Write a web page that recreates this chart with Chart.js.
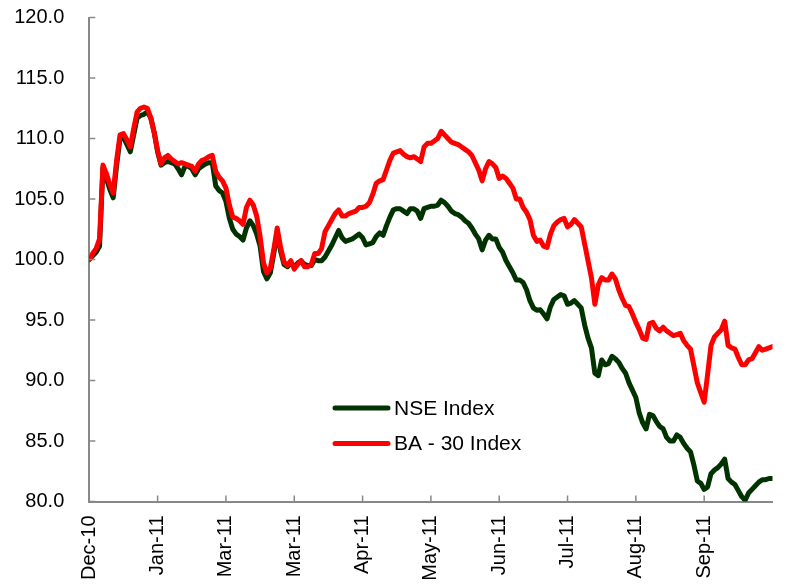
<!DOCTYPE html>
<html lang="en">
<head>
<meta charset="UTF-8">
<title>NSE Index vs BA - 30 Index</title>
<script src="https://cdn.jsdelivr.net/npm/chart.js"></script>
<style>
    body { margin: 0; background: #fff; }
    canvas { display: block; }
</style>
</head>
<body>
<canvas id="indexChart" width="795" height="585"></canvas>
<script>
// month labels, one every 20 trading days
const tickLabels = ['Dec-10', 'Jan-11', 'Mar-11', 'Mar-11', 'Apr-11', 'May-11', 'Jun-11', 'Jul-11', 'Aug-11', 'Sep-11'];
const daysPerTick = 20;

const nseIndex = [
    100.0, 100.3, 100.6, 101.1, 107.6, 106.7, 105.8, 105.1, 107.8, 110.0,
    110.1, 109.5, 108.9, 110.3, 111.7, 111.9, 112.0, 112.2, 111.7, 110.5,
    108.9, 107.8, 108.0, 108.1, 108.0, 107.9, 107.5, 107.0, 107.7, 107.7,
    107.5, 107.0, 107.5, 107.7, 107.9, 108.0, 108.0, 106.1, 105.7, 105.5,
    104.8, 103.4, 102.5, 102.1, 101.9, 101.6, 102.6, 103.2, 102.8, 102.1,
    101.1, 99.0, 98.4, 98.9, 100.5, 102.2, 100.7, 99.6, 99.4, 99.7,
    99.4, 99.7, 99.9, 99.6, 99.5, 99.5, 100.0, 99.9, 99.9, 100.2,
    100.7, 101.2, 101.8, 102.4, 101.8, 101.5, 101.6, 101.7, 101.9, 102.1,
    101.8, 101.2, 101.3, 101.4, 101.9, 102.2, 102.0, 102.8, 103.5, 104.1,
    104.2, 104.2, 104.0, 103.8, 104.2, 104.2, 104.0, 103.4, 104.2, 104.3,
    104.4, 104.4, 104.5, 104.9, 104.7, 104.4, 104.0, 103.8, 103.7, 103.5,
    103.2, 103.0, 102.6, 102.1, 101.7, 100.8, 101.6, 102.0, 101.7, 101.7,
    101.0, 100.6, 99.9, 99.4, 98.9, 98.3, 98.3, 98.1, 97.5, 96.6,
    96.0, 95.8, 95.85, 95.5, 95.1, 96.1, 96.7, 96.9, 97.1, 97.0,
    96.3, 96.4, 96.6, 96.3, 96.0, 94.6, 93.5, 92.7, 90.6, 90.4,
    91.7, 91.3, 91.4, 92.0, 91.8, 91.5, 91.0, 90.6, 89.8, 89.2,
    88.6, 87.3, 86.5, 86.0, 87.2, 87.1, 86.6, 86.2, 86.0, 85.3,
    85.0, 85.0, 85.5, 85.3, 84.8, 84.4, 84.1, 83.0, 81.7, 81.5,
    81.0, 81.2, 82.3, 82.6, 82.8, 83.1, 83.5, 81.9, 81.6, 81.4,
    80.9, 80.4, 80.1, 80.7, 81.0, 81.3, 81.6, 81.8, 81.8, 81.9,
    81.9
];

const ba30Index = [
    100.0, 100.5, 100.9, 101.7, 107.8, 107.1, 106.2, 105.5, 108.2, 110.3,
    110.4, 109.9, 109.3, 110.8, 112.2, 112.5, 112.6, 112.5, 111.7, 110.5,
    109.0, 107.9, 108.4, 108.6, 108.3, 108.1, 107.9, 108.0, 107.9, 107.8,
    107.7, 107.3, 107.9, 108.2, 108.3, 108.5, 108.6, 107.3, 106.8, 106.5,
    105.9, 104.5, 103.5, 103.4, 103.2, 102.9, 104.3, 104.9, 104.5, 103.6,
    101.9, 99.7, 98.9, 99.3, 100.8, 102.6, 101.0, 99.8, 99.5, 99.9,
    99.2, 99.6, 99.9, 99.4, 99.4, 99.6, 100.5, 100.5, 100.9, 102.3,
    102.8, 103.3, 103.8, 104.1, 103.6, 103.6, 103.8, 103.9, 104.0, 104.3,
    104.3, 104.4, 104.7, 105.4, 106.3, 106.5, 106.6, 107.4, 108.2, 108.8,
    108.9, 109.0, 108.7, 108.5, 108.4, 108.5, 108.3, 108.1, 109.3, 109.6,
    109.6, 109.8, 110.0, 110.6, 110.3, 110.0, 109.7, 109.6, 109.5, 109.3,
    109.1, 108.9, 108.6, 108.0, 107.4, 106.5, 107.5, 108.1, 107.9, 107.6,
    106.7, 106.9, 106.7, 106.3, 105.9, 105.0, 105.0, 104.3, 103.9, 103.3,
    102.0, 101.5, 101.6, 101.1, 101.0, 102.1, 102.8, 103.1, 103.3, 103.4,
    102.7, 102.9, 103.3, 103.0, 102.7, 101.3, 99.9, 98.5, 96.3, 97.9,
    98.5, 98.3, 98.3, 98.8, 98.4, 97.5, 96.8, 96.2, 96.1, 95.5,
    94.8, 94.2, 93.5, 93.4, 94.7, 94.8, 94.3, 94.1, 94.4, 94.1,
    93.9, 93.7, 93.8, 93.9, 93.3, 92.9, 92.6, 91.2, 89.8, 89.0,
    88.2, 90.5, 92.9, 93.6, 93.9, 94.2, 94.9, 92.9, 92.7, 92.6,
    91.9, 91.3, 91.3, 91.7, 91.8, 92.3, 92.8, 92.5, 92.6, 92.7,
    92.8
];

const yMin = 80;
const yMax = 120;
const yStep = 5;

const axisColor = '#888888';
const nseColor = '#003300';
const baColor = '#ff0000';

Chart.defaults.font.family = '"Liberation Sans", Arial, sans-serif';
Chart.defaults.font.size = 20;
Chart.defaults.color = '#000000';

// tick marks point into the plot, and the legend sits inside it
const insideTicksAndLegend = {
    id: 'insideTicksAndLegend',
    afterDraw(chart) {
        const { ctx, chartArea, scales } = chart;
        ctx.save();
        ctx.strokeStyle = axisColor;
        ctx.lineWidth = 1.5;
        scales.x.ticks.forEach((t, i) => {
            const px = scales.x.getPixelForTick(i);
            ctx.beginPath();
            ctx.moveTo(px, chartArea.bottom);
            ctx.lineTo(px, chartArea.bottom - 6);
            ctx.stroke();
        });
        scales.y.ticks.forEach((t, i) => {
            const py = scales.y.getPixelForTick(i);
            ctx.beginPath();
            ctx.moveTo(chartArea.left, py);
            ctx.lineTo(chartArea.left + 6, py);
            ctx.stroke();
        });

        const legendItems = [chart.data.datasets[0], chart.data.datasets[1]];
        ctx.font = '21px "Liberation Sans", Arial, sans-serif';
        ctx.textBaseline = 'middle';
        ctx.textAlign = 'left';
        legendItems.forEach((ds, k) => {
            const y = 408 + k * 35.5;
            ctx.strokeStyle = ds.borderColor;
            ctx.lineWidth = 5;
            ctx.lineCap = 'round';
            ctx.beginPath();
            ctx.moveTo(335, y);
            ctx.lineTo(388, y);
            ctx.stroke();
            ctx.fillStyle = '#000';
            ctx.fillText(ds.label, 394, y + 1);
        });
        ctx.restore();
    }
};

const ctx = document.getElementById('indexChart').getContext('2d');
const indexChart = new Chart(ctx, {
    type: 'line',
    data: {
        datasets: [{
            label: 'NSE Index',
            data: nseIndex.map((v, i) => ({ x: i, y: v })),
            borderColor: nseColor,
            borderWidth: 5,
            pointRadius: 0,
            tension: 0,
            borderJoinStyle: 'round',
            borderCapStyle: 'round',
            order: 1
        }, {
            label: 'BA - 30 Index',
            data: ba30Index.map((v, i) => ({ x: i, y: v })),
            borderColor: baColor,
            borderWidth: 5,
            pointRadius: 0,
            tension: 0,
            borderJoinStyle: 'round',
            borderCapStyle: 'round',
            order: 0
        }]
    },
    options: {
        responsive: false,
        animation: false,
        devicePixelRatio: 1,
        layout: { padding: { top: 17.5, right: 22.5, left: 0, bottom: 0 } },
        plugins: {
            legend: { display: false },
            tooltip: { enabled: false }
        },
        scales: {
            x: {
                type: 'linear',
                min: 0,
                max: nseIndex.length - 1,
                afterBuildTicks: scale => {
                    scale.ticks = tickLabels.map((_, k) => ({ value: k * daysPerTick }));
                },
                afterFit: scale => { scale.height = 83.5; },
                // grid hidden, tickLength only spaces the labels off the axis
                grid: { display: false, drawTicks: true, tickLength: 14 },
                border: { display: true, color: axisColor, width: 2 },
                ticks: {
                    autoSkip: false,
                    minRotation: 90,
                    maxRotation: 90,
                    padding: 0,
                    callback: v => tickLabels[v / daysPerTick]
                }
            },
            y: {
                min: yMin,
                max: yMax,
                afterFit: scale => { scale.width = 89.3; },
                grid: { display: false, drawTicks: true, tickLength: 25 },
                border: { display: true, color: axisColor, width: 2 },
                ticks: {
                    stepSize: yStep,
                    padding: 0,
                    callback: v => v.toFixed(1)
                }
            }
        }
    },
    plugins: [insideTicksAndLegend]
});
</script>
</body>
</html>
